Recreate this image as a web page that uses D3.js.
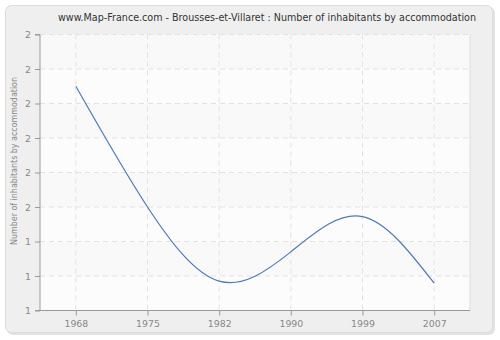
<!DOCTYPE html>
<html>
<head>
<meta charset="utf-8">
<script src="https://cdn.jsdelivr.net/npm/d3@7"></script>
<style>
  body { margin: 0; background: #fff; }
  text { font-family: "DejaVu Sans", Verdana, sans-serif; }
</style>
</head>
<body>
<div id="chart"></div>
<script>
// chart values
var years = ["1968", "1975", "1982", "1990", "1999", "2007"];
var values = [1.85, 1.50, 1.285, 1.37, 1.472, 1.279];
var yTicks = [1.2, 1.3, 1.4, 1.5, 1.6, 1.7, 1.8, 1.9, 2.0];
var title = "www.Map-France.com - Brousses-et-Villaret : Number of inhabitants by accommodation";
var yLabel = "Number of inhabitants by accommodation";

var svgWidth = 500;
var svgHeight = 340;

var margin = { top: 34.5, right: 30, bottom: 30, left: 40 };
var width = 470 - margin.left;
var height = 310.5 - margin.top;

var svg = d3.select("#chart")
  .append("svg")
  .attr("width", svgWidth)
  .attr("height", svgHeight);

// hatch pattern for plot background
var defs = svg.append("defs");
var pat = defs.append("pattern")
  .attr("id", "hatch")
  .attr("patternUnits", "userSpaceOnUse")
  .attr("width", 4)
  .attr("height", 4);
pat.append("rect").attr("width", 4).attr("height", 4).attr("fill", "#fbfbfb");
pat.append("path")
  .attr("d", "M-1,1 l2,-2 M0,4 l4,-4 M3,5 l2,-2")
  .attr("stroke", "#ebebeb")
  .attr("stroke-width", 0.7);

// outer frame
svg.append("rect")
  .attr("x", 7).attr("y", 7)
  .attr("width", 488).attr("height", 328)
  .attr("rx", 6)
  .attr("fill", "#e2e2e2");
svg.append("rect")
  .attr("x", 5.5).attr("y", 5.5)
  .attr("width", 487).attr("height", 327)
  .attr("rx", 6)
  .attr("fill", "#efefef")
  .attr("stroke", "#dcdcdc");

var chartGroup = svg.append("g")
  .attr("transform", `translate(${margin.left}, ${margin.top})`);

var xScale = d3.scalePoint()
  .domain(years)
  .range([0, width])
  .padding(0.5);

var yScale = d3.scaleLinear()
  .domain([1.2, 2.0])
  .range([height, 0]);

// background
chartGroup.append("rect")
  .attr("width", width)
  .attr("height", height)
  .attr("fill", "url(#hatch)");

// alternating lighter bands
chartGroup.selectAll(".band")
  .data(yTicks.slice(0, -1).filter((d, i) => i % 2 === 0))
  .enter()
  .append("rect")
  .attr("class", "band")
  .attr("x", 0)
  .attr("width", width)
  .attr("y", d => yScale(d + 0.1))
  .attr("height", d => yScale(d) - yScale(d + 0.1))
  .attr("fill", "#ffffff")
  .attr("opacity", 0.55);

// right edge of plot
chartGroup.append("line")
  .attr("x1", width).attr("x2", width)
  .attr("y1", 0).attr("y2", height)
  .attr("stroke", "#dddddd");

// grid lines
chartGroup.selectAll(".hgrid")
  .data(yTicks.slice(1))
  .enter()
  .append("line")
  .attr("x1", 0).attr("x2", width)
  .attr("y1", d => yScale(d)).attr("y2", d => yScale(d))
  .attr("stroke", "#e2e2e2")
  .attr("stroke-dasharray", "5,4");

chartGroup.selectAll(".vgrid")
  .data(years)
  .enter()
  .append("line")
  .attr("x1", d => xScale(d)).attr("x2", d => xScale(d))
  .attr("y1", 0).attr("y2", height)
  .attr("stroke", "#e2e2e2")
  .attr("stroke-dasharray", "5,4");

// axes
var bottomAxis = d3.axisBottom(xScale).tickSize(5).tickPadding(5);
var leftAxis = d3.axisLeft(yScale).tickValues(yTicks).tickSize(5).tickPadding(4)
  .tickFormat(d3.format(".0f"));

var xAxisG = chartGroup.append("g")
  .attr("transform", `translate(0, ${height})`)
  .call(bottomAxis);
var yAxisG = chartGroup.append("g")
  .call(leftAxis);

[xAxisG, yAxisG].forEach(function(g) {
  g.select(".domain").attr("stroke", "#999999");
  g.selectAll(".tick line").attr("stroke", "#999999");
  g.selectAll(".tick text")
    .attr("fill", "#888888")
    .style("font-size", "9.4px")
    .style("font-family", "DejaVu Sans, Verdana, sans-serif");
});
yAxisG.select(".domain").attr("d", `M-5,${height}H0V0H-5`);
xAxisG.select(".domain").attr("d", `M0,0H${width}`);

// line
var line = d3.line()
  .x((d, i) => xScale(years[i]))
  .y(d => yScale(d))
  .curve(d3.curveNatural);

chartGroup.append("path")
  .datum(values)
  .attr("d", line)
  .attr("fill", "none")
  .attr("stroke", "#4f7bb3")
  .attr("stroke-width", 1.2);

// title
svg.append("text")
  .attr("x", 267)
  .attr("y", 21)
  .attr("text-anchor", "middle")
  .attr("fill", "#333333")
  .attr("textLength", 418)
  .attr("lengthAdjust", "spacingAndGlyphs")
  .style("font-size", "10px")
  .text(title);

// y label
svg.append("text")
  .attr("transform", "rotate(-90)")
  .attr("x", -161)
  .attr("y", 17)
  .attr("text-anchor", "middle")
  .attr("fill", "#888888")
  .attr("textLength", 168)
  .attr("lengthAdjust", "spacingAndGlyphs")
  .style("font-size", "9.5px")
  .text(yLabel);
</script>
</body>
</html>
